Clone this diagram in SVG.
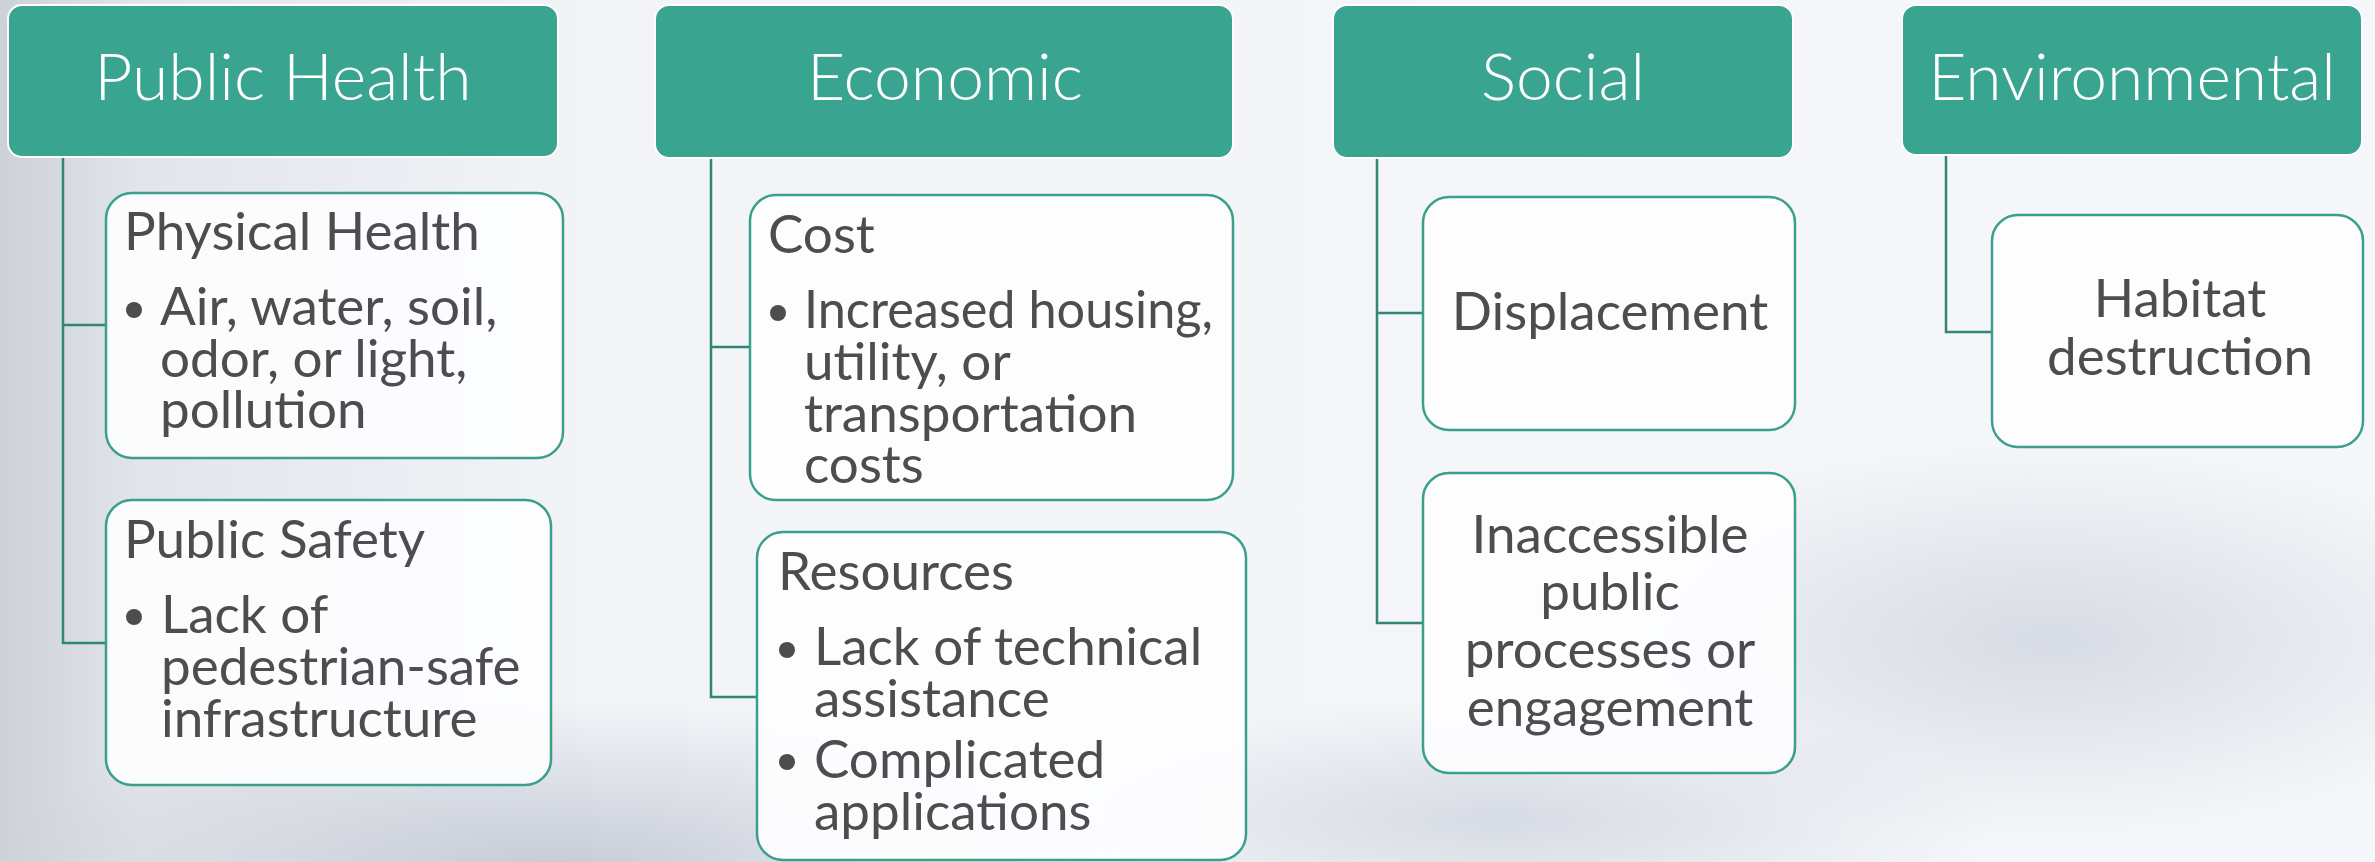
<svg xmlns="http://www.w3.org/2000/svg" width="2375" height="862" viewBox="0 0 2375 862">
<defs>
<linearGradient id="bgH" x1="0" y1="0" x2="1" y2="0">
<stop offset="0" stop-color="#cdd1d8"/>
<stop offset="0.06" stop-color="#e2e5ea"/>
<stop offset="0.25" stop-color="#f2f4f8"/>
<stop offset="1" stop-color="#f6f7fa"/>
</linearGradient>
<radialGradient id="blob1" cx="0.5" cy="0.5" r="0.5">
<stop offset="0" stop-color="#b7bdca" stop-opacity="0.75"/>
<stop offset="1" stop-color="#b7bdca" stop-opacity="0"/>
</radialGradient>
<radialGradient id="blob2" cx="0.5" cy="0.5" r="0.5">
<stop offset="0" stop-color="#cfd4de" stop-opacity="0.8"/>
<stop offset="1" stop-color="#cfd4de" stop-opacity="0"/>
</radialGradient>
<style>
.hdr{fill:#39a490;stroke:#ffffff;stroke-width:2}
.hdrt{font-family:Lato,"Open Sans",sans-serif;font-weight:300;font-size:66px;fill:#ffffff;text-anchor:middle}
.box{fill:#fdfdfe;fill-opacity:0.94;stroke:#3a9f8d;stroke-width:2.5}
.t{font-family:Lato,"Open Sans",sans-serif;font-size:53px;fill:#4d4d50}
.c{text-anchor:middle}
.bul{fill:#4d4d50}
.con{fill:none;stroke:#2f8775;stroke-width:2.5}
</style>
</defs>
<rect width="2375" height="862" fill="url(#bgH)"/>
<ellipse cx="560" cy="870" rx="560" ry="170" fill="url(#blob1)"/>
<ellipse cx="2050" cy="640" rx="500" ry="200" fill="url(#blob2)"/>
<ellipse cx="1500" cy="820" rx="500" ry="120" fill="url(#blob2)"/>

<g id="connectors">
<path class="con" d="M63 157 V643 H106 M63 325 H106"/>
<path class="con" d="M711 158 V697 H757 M711 347 H750"/>
<path class="con" d="M1377 158 V623 H1423 M1377 313 H1423"/>
<path class="con" d="M1946 155 V332 H1992"/>
</g>

<g id="public-health">
<rect class="hdr" x="8" y="5" width="550" height="152" rx="14"/>
<text class="hdrt" x="283" y="100">Public Health</text>
</g>
<g id="physical-health">
<rect class="box" x="106" y="193" width="457" height="265" rx="26"/>
<text class="t" x="124" y="250">Physical Health</text>
<circle class="bul" cx="134" cy="310" r="8"/>
<text class="t" x="160" y="325">Air, water, soil,</text>
<text class="t" x="160" y="377">odor, or light,</text>
<text class="t" x="160" y="428">pollution</text>
</g>
<g id="public-safety">
<rect class="box" x="106" y="500" width="445" height="285" rx="26"/>
<text class="t" x="124" y="558">Public Safety</text>
<circle class="bul" cx="134" cy="617" r="8"/>
<text class="t" x="161" y="633">Lack of</text>
<text class="t" x="161" y="685">pedestrian-safe</text>
<text class="t" x="161" y="737">infrastructure</text>
</g>

<g id="economic">
<rect class="hdr" x="655" y="5" width="578" height="153" rx="14"/>
<text class="hdrt" x="945" y="100">Economic</text>
</g>
<g id="cost">
<rect class="box" x="750" y="195" width="483" height="305" rx="26"/>
<text class="t" x="768" y="253">Cost</text>
<circle class="bul" cx="778" cy="313" r="8"/>
<text class="t" x="804" y="328" textLength="409" lengthAdjust="spacingAndGlyphs">Increased housing,</text>
<text class="t" x="804" y="380">utility, or</text>
<text class="t" x="804" y="432">transportation</text>
<text class="t" x="804" y="483">costs</text>
</g>
<g id="resources">
<rect class="box" x="757" y="532" width="489" height="328" rx="26"/>
<text class="t" x="778" y="590">Resources</text>
<circle class="bul" cx="787" cy="650" r="8"/>
<text class="t" x="814" y="665">Lack of technical</text>
<text class="t" x="814" y="717">assistance</text>
<circle class="bul" cx="787" cy="762" r="8"/>
<text class="t" x="814" y="778">Complicated</text>
<text class="t" x="814" y="830">applications</text>
</g>

<g id="social">
<rect class="hdr" x="1333" y="5" width="460" height="153" rx="14"/>
<text class="hdrt" x="1563" y="100">Social</text>
</g>
<g id="displacement">
<rect class="box" x="1423" y="197" width="372" height="233" rx="26"/>
<text class="t c" x="1610" y="330">Displacement</text>
</g>
<g id="inaccessible">
<rect class="box" x="1423" y="473" width="372" height="300" rx="26"/>
<text class="t c" x="1610" y="553">Inaccessible</text>
<text class="t c" x="1610" y="610">public</text>
<text class="t c" x="1610" y="668">processes or</text>
<text class="t c" x="1610" y="726">engagement</text>
</g>

<g id="environmental">
<rect class="hdr" x="1902" y="5" width="460" height="150" rx="14"/>
<text class="hdrt" x="2132" y="100">Environmental</text>
</g>
<g id="habitat">
<rect class="box" x="1992" y="215" width="371" height="232" rx="26"/>
<text class="t c" x="2180" y="317">Habitat</text>
<text class="t c" x="2180" y="375">destruction</text>
</g>
</svg>
